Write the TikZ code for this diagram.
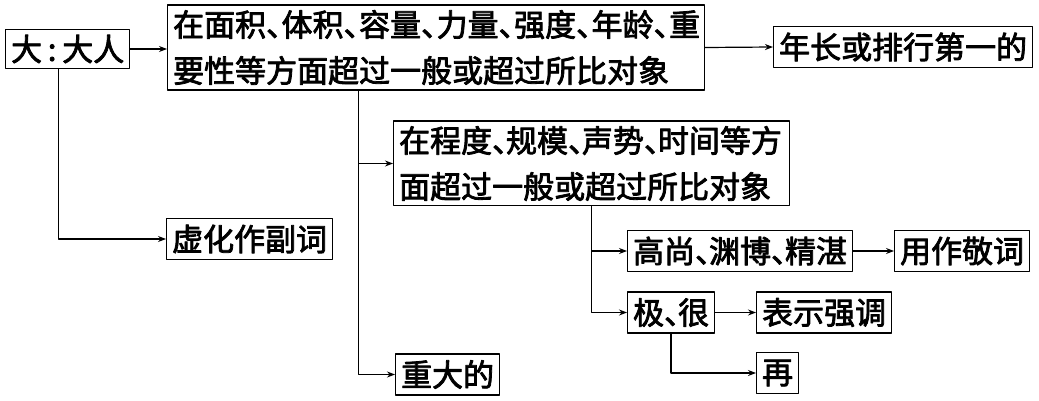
\documentclass[tikz,border=0pt]{standalone}
\usepackage{fontspec}
\setmainfont{Noto Sans CJK SC}[FakeBold=2.5]
\usetikzlibrary{arrows.meta}
\newcommand{\dun}[1][.45em]{\makebox[#1][l]{、}}
\tikzset{
	box/.style={draw, inner xsep=5.5pt, inner ysep=5pt, anchor=west, minimum height=41pt},
	lbox/.style={box, align=left, text width=#1},
}

\begin{document}
\begin{tikzpicture}[x=1pt, y=-1pt, font=\fontsize{31}{46}\selectfont, line width=1.2pt, line join=round, >={Stealth[length=8pt,width=6pt]}]
	\useasboundingbox (0,0) rectangle (1039,401);
	
	\node[box, minimum height=38pt] (da) at (5,49) {大\makebox[.65em]{:}大人};
	\node[lbox=526pt] (guo) at (167,47.5) {在面积\dun[.5em]体积\dun[.5em]容量\dun[.5em]力量\dun[.5em]强度\dun[.5em]年龄\dun[.5em]重\\要性等方面超过一般或超过所比对象};
	\node[box] (zhang) at (773,47) {年长或排行第一的};
	\node[box] (xu) at (166,239) {虚化作副词};
	\node[lbox=385pt] (cheng) at (393,163.5) {在程度\dun 规模\dun 声势\dun 时间等方\\面超过一般或超过所比对象};
	\node[box] (zhong) at (395,374.5) {重大的};
	\node[box] (gao) at (627,251) {高尚\dun 渊博\dun 精湛};
	\node[box] (jing) at (894,251) {用作敬词};
	\node[box] (ji) at (627,312.5) {极\dun 很};
	\node[box] (qiang) at (756,312.5) {表示强调};
	\node[box] (zai) at (756,373) {再};
	
	\coordinate (da1) at ([xshift=-9.5pt]da.south);
	\coordinate (guo1) at ([xshift=-77.5pt]guo.south);
	
	\draw[->] (da.east) -- (da.east -| guo.west);
	\draw[->] (guo.east) -- (zhang.west);
	\draw[->] (da1) |- (xu.west);
	\draw[->] (guo1) |- (cheng.west);
	\draw[->] (guo1) |- (zhong.west);
	\draw[->] (cheng.south) |- (gao.west);
	\draw[->] (cheng.south) |- (ji.west);
	\draw[->] (gao.east) -- (jing.west);
	\draw[->] (ji.east) -- (qiang.west);
	\draw[->] (ji.south) |- (zai.west);
	
\end{tikzpicture}
\end{document}
